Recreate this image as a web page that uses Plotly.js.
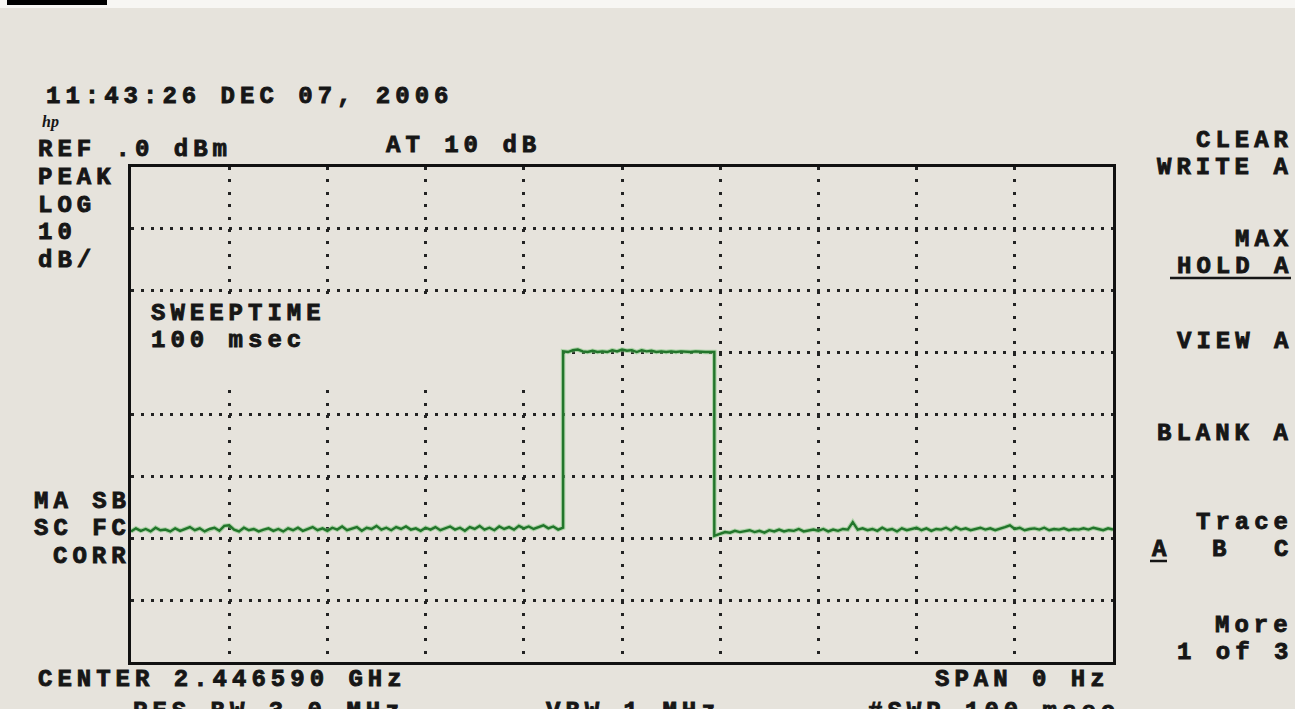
<!DOCTYPE html>
<html>
<head>
<meta charset="utf-8">
<script src="https://cdn.plot.ly/plotly-3.0.1.min.js"></script>
<style>
  html, body { margin: 0; padding: 0; background: #e6e3dc; }
  #chart { width: 1295px; height: 709px; }
</style>
</head>
<body>
<div id="chart"></div>
<script>
// ---- Data (zero span, time axis in ms, level in dBm) ----
const noiseBeforeT = [
  0,0.5,1,1.5,2,2.5,3,3.5,4,4.5,
  5,5.5,6,6.5,7,7.5,8,8.5,9,9.5,
  10,10.5,11,11.5,12,12.5,13,13.5,14,14.5,
  15,15.5,16,16.5,17,17.5,18,18.5,19,19.5,
  20,20.5,21,21.5,22,22.5,23,23.5,24,24.5,
  25,25.5,26,26.5,27,27.5,28,28.5,29,29.5,
  30,30.5,31,31.5,32,32.5,33,33.5,34,34.5,
  35,35.5,36,36.5,37,37.5,38,38.5,39,39.5,
  40,40.5,41,41.5,42,42.5,43,43.5,44
];
const noiseBeforeDbm = [
  -58.9,-58.4,-58.8,-58.5,-58.9,-58.3,-58.7,-58.6,-58.9,-58.4,
  -58.8,-58.5,-58.2,-58.7,-58.4,-58.9,-58.5,-58.3,-58.8,-58.0,
  -57.9,-58.6,-58.9,-58.3,-58.7,-58.5,-58.9,-58.6,-58.4,-58.8,
  -58.5,-58.9,-58.4,-58.7,-58.3,-58.8,-58.5,-58.2,-58.7,-58.4,
  -58.8,-58.3,-58.6,-58.1,-58.7,-58.4,-58.2,-58.8,-58.3,-58.5,
  -58.0,-58.6,-58.3,-58.7,-58.2,-58.5,-58.1,-58.6,-58.4,-58.8,
  -58.3,-58.6,-58.2,-58.7,-58.4,-58.1,-58.6,-58.3,-58.8,-58.2,
  -58.5,-58.0,-58.6,-58.3,-58.7,-58.1,-58.5,-58.2,-58.6,-58.0,
  -58.4,-58.1,-58.5,-58.2,-57.9,-58.4,-58.1,-58.6,-58.3
];
const pulseT = [
  44,44.5,45,45.5,46,46.5,47,47.5,48,48.5,
  49,49.5,50,50.5,51,51.5,52,52.5,53,53.5,
  54,54.5,55,55.5,56,56.5,57,57.5,58,58.5,
  59,59.4
];
const pulseDbm = [
  -29.8,-29.9,-29.6,-29.5,-29.8,-29.9,-29.7,-29.9,-29.8,-29.9,
  -29.6,-29.8,-29.5,-29.7,-29.6,-29.9,-29.6,-29.8,-29.7,-29.9,
  -29.8,-29.9,-29.8,-29.9,-29.8,-29.9,-29.9,-29.8,-29.9,-29.9,
  -29.9,-29.9
];
const noiseAfterT = [
  59.4,
  60,60.5,61,61.5,62,62.5,63,63.5,64,64.5,
  65,65.5,66,66.5,67,67.5,68,68.5,69,69.5,
  70,70.5,71,71.5,72,72.5,73,73.5,74,74.5,
  75,75.5,76,76.5,77,77.5,78,78.5,79,79.5,
  80,80.5,81,81.5,82,82.5,83,83.5,84,84.5,
  85,85.5,86,86.5,87,87.5,88,88.5,89,89.5,
  90,90.5,91,91.5,92,92.5,93,93.5,94,94.5,
  95,95.5,96,96.5,97,97.5,98,98.5,99,99.5,
  100
];
const noiseAfterDbm = [
  -59.6,
  -59.3,-59.0,-59.1,-58.8,-59.0,-58.9,-58.7,-59.0,-58.8,-59.1,
  -58.7,-58.9,-58.6,-58.9,-58.7,-58.8,-58.5,-58.9,-58.7,-58.6,
  -58.8,-58.5,-58.9,-58.6,-58.8,-58.5,-58.6,-57.4,-58.6,-58.4,
  -58.7,-58.5,-58.8,-58.3,-58.7,-58.5,-58.9,-58.4,-58.7,-58.5,
  -58.3,-58.7,-58.4,-58.8,-58.5,-58.6,-58.3,-58.7,-58.2,-58.6,
  -58.4,-58.7,-58.5,-58.3,-58.6,-58.4,-58.7,-58.5,-58.2,-57.9,
  -58.5,-58.3,-58.7,-58.5,-58.4,-58.6,-58.3,-58.7,-58.5,-58.6,
  -58.4,-58.7,-58.5,-58.6,-58.4,-58.6,-58.3,-58.5,-58.7,-58.4,
  -58.6
];

// Axis settings of the analyzer screen
const refLevel = 0;      // REF .0 dBm
const dbPerDiv = 10;     // LOG 10 dB/
const vDivs = 8;
const sweepMs = 100;     // SWEEPTIME 100 msec

// ---- Build trace ----
const tAll = noiseBeforeT.concat(pulseT, noiseAfterT);
const dAll = noiseBeforeDbm.concat(pulseDbm, noiseAfterDbm);

const BG = '#e6e3dc';
const INK = '#161616';

// pixel -> paper helpers for the printout labels
const L = 131, R = 1113, T = 167, B = 662;
function px(x) { return (x - L) / (R - L); }
function py(y) { return (B - y) / (B - T); }
const FONT = { family: 'Liberation Mono, DejaVu Sans Mono, monospace', size: 24, color: INK, weight: 'bold' };
function txt(s, x, y, anchor) {
  return { text: '<span style="letter-spacing:5px;stroke:#161616;stroke-width:0.9px">' + s + '</span>',
           xref: 'paper', yref: 'paper',
           x: px(x), y: py(y), xanchor: anchor || 'left', yanchor: 'middle', showarrow: false, font: FONT };
}

const annotations = [
  txt('11:43:26 DEC 07, 2006', 44, 97),
  { text: '<i>hp</i>', xref: 'paper', yref: 'paper', x: px(40), y: py(122), xanchor: 'left', yanchor: 'middle',
    showarrow: false, font: { family: 'Liberation Serif', size: 16, color: INK, weight: 'bold' } },
  txt('REF .0 dBm', 36, 149),
  txt('AT 10 dB', 384, 146),
  txt('PEAK', 36, 177.5),
  txt('LOG', 36, 205),
  txt('10', 36, 232.5),
  txt('dB/', 36, 260),
  txt('SWEEPTIME', 149, 313),
  txt('100 msec', 149, 340.5),
  txt('MA SB', 133, 501, 'right'),
  txt('SC FC', 133, 528.5, 'right'),
  txt('CORR', 133, 556, 'right'),
  txt('CENTER 2.446590 GHz', 36, 679),
  txt('RES BW 3.0 MHz', 131, 711),
  txt('VBW 1 MHz', 544, 711),
  txt('SPAN 0 Hz', 1112, 679, 'right'),
  txt('#SWP 100 msec', 1122, 711, 'right'),
  txt('CLEAR', 1295, 140, 'right'),
  txt('WRITE A', 1295, 167.5, 'right'),
  txt('MAX', 1295, 239, 'right'),
  txt('HOLD A', 1295, 266.5, 'right'),
  txt('VIEW A', 1295, 341, 'right'),
  txt('BLANK A', 1295, 434, 'right'),
  txt('Trace', 1295, 522, 'right'),
  txt('A', 1150, 549.5),
  txt('B', 1221, 549.5, 'center'),
  txt('C', 1295, 549.5, 'right'),
  txt('More', 1295, 625, 'right'),
  txt('1 of 3', 1295, 652.5, 'right')
];

const shapes = [
  // blanked annotation area of the screen (grid not drawn behind SWEEPTIME text)
  { type: 'rect', xref: 'x', yref: 'y', x0: 0, x1: 43.7, y0: -20.6, y1: -35.6,
    fillcolor: BG, line: { width: 0 }, layer: 'between' },
  // underline HOLD A
  { type: 'line', xref: 'paper', yref: 'paper', x0: px(1170), x1: px(1291), y0: py(278), y1: py(278),
    line: { color: INK, width: 2.5 } },
  // underline A (trace A)
  { type: 'line', xref: 'paper', yref: 'paper', x0: px(1150), x1: px(1167), y0: py(561), y1: py(561),
    line: { color: INK, width: 2.5 } },
  // white edge of the page at the top + figure caption underline
  { type: 'rect', xref: 'paper', yref: 'paper', x0: px(0), x1: px(1295), y0: py(8), y1: py(0),
    fillcolor: '#f7f6f3', line: { width: 0 } },
  { type: 'rect', xref: 'paper', yref: 'paper', x0: px(7), x1: px(107), y0: py(5), y1: py(0),
    fillcolor: '#000', line: { width: 0 } }
];

const data = [
  { x: tAll, y: dAll, type: 'scatter', mode: 'lines',
    line: { color: '#7cc47a', width: 4.5 }, opacity: 0.55, hoverinfo: 'skip' },
  { x: tAll, y: dAll, type: 'scatter', mode: 'lines',
    line: { color: '#22752b', width: 2.4 } }
];

const layout = {
  width: 1295, height: 709,
  paper_bgcolor: BG, plot_bgcolor: BG,
  margin: { l: L, r: 1295 - R, t: T, b: 709 - B, pad: 0 },
  showlegend: false,
  xaxis: {
    range: [0, sweepMs], dtick: sweepMs / 10, tick0: 0,
    showticklabels: false, ticks: '', zeroline: false,
    showgrid: true, gridcolor: '#222', gridwidth: 3, griddash: '3px,9.4px',
    showline: true, linecolor: '#111', linewidth: 3, mirror: true, fixedrange: true
  },
  yaxis: {
    range: [refLevel - vDivs * dbPerDiv, refLevel], dtick: dbPerDiv, tick0: 0,
    showticklabels: false, ticks: '', zeroline: false,
    showgrid: true, gridcolor: '#222', gridwidth: 3, griddash: '3px,6.8px',
    showline: true, linecolor: '#111', linewidth: 3, mirror: true, fixedrange: true
  },
  annotations: annotations,
  shapes: shapes
};

Plotly.newPlot('chart', data, layout, { staticPlot: true, displayModeBar: false });
</script>
</body>
</html>
